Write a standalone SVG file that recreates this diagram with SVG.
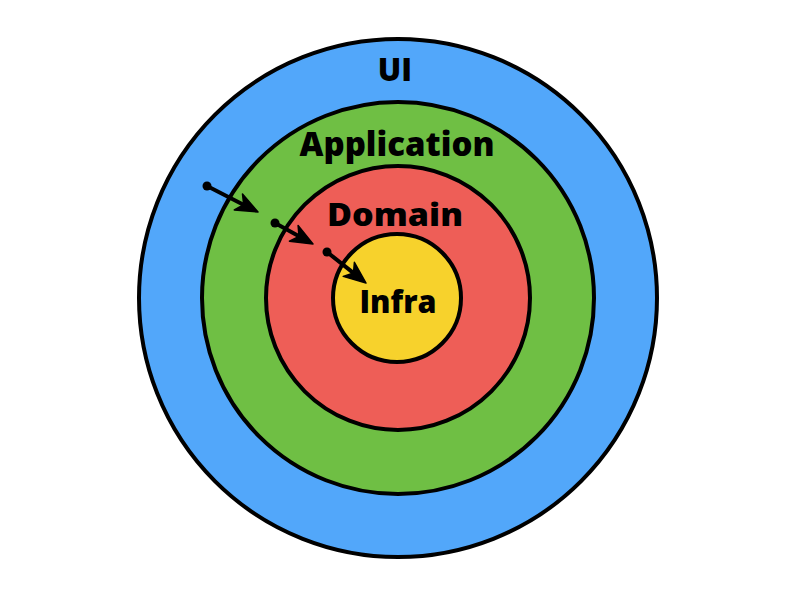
<svg xmlns="http://www.w3.org/2000/svg" width="800" height="600" viewBox="0 0 800 600">
<defs>
<style>
.ring{stroke:#000;stroke-width:4}
.lbl{font-family:"Open Sans","Noto Sans","Liberation Sans",sans-serif;font-weight:800;fill:#000;text-anchor:middle}
.shaft{stroke:#000;stroke-width:4;fill:none;stroke-linecap:round}
.head{fill:#000;stroke:#000;stroke-width:1.5;stroke-linejoin:round}
</style>
</defs>
<rect width="800" height="600" fill="#fff"/>
<g id="ui">
<circle class="ring" cx="398" cy="298" r="259" fill="#52a7fa"/>
<text class="lbl" x="395" y="81" font-size="31">UI</text>
</g>
<g id="application">
<circle class="ring" cx="398" cy="298" r="196" fill="#6fbf44"/>
<text class="lbl" x="397" y="156" font-size="33" textLength="195" lengthAdjust="spacingAndGlyphs">Application</text>
</g>
<g id="domain">
<circle class="ring" cx="398" cy="298" r="132" fill="#ee5e57"/>
<text class="lbl" x="395" y="226" font-size="32" textLength="136" lengthAdjust="spacingAndGlyphs">Domain</text>
</g>
<g id="infra">
<circle class="ring" cx="397" cy="298" r="64" fill="#f7d22c"/>
<text class="lbl" x="398" y="313" font-size="32" textLength="77" lengthAdjust="spacingAndGlyphs">Infra</text>
</g>
<g id="connectors">
<circle cx="207" cy="186" r="4.5" fill="#000"/>
<path class="shaft" d="M207,186 L243,204.5"/>
<path class="head" d="M258,212 L234.3,210 L243.7,204.7 L242.5,194 Z"/>
<circle cx="275" cy="223" r="4.5" fill="#000"/>
<path class="shaft" d="M275,223 L299,236.2"/>
<path class="head" d="M313,244 L289.4,241.2 L299,236.3 L298.1,225.5 Z"/>
<circle cx="327" cy="252" r="4.5" fill="#000"/>
<path class="shaft" d="M327,252 L353,272.6"/>
<path class="head" d="M366,283 L343.2,276.4 L353.5,273 L354.4,262.3 Z"/>
</g>
</svg>
